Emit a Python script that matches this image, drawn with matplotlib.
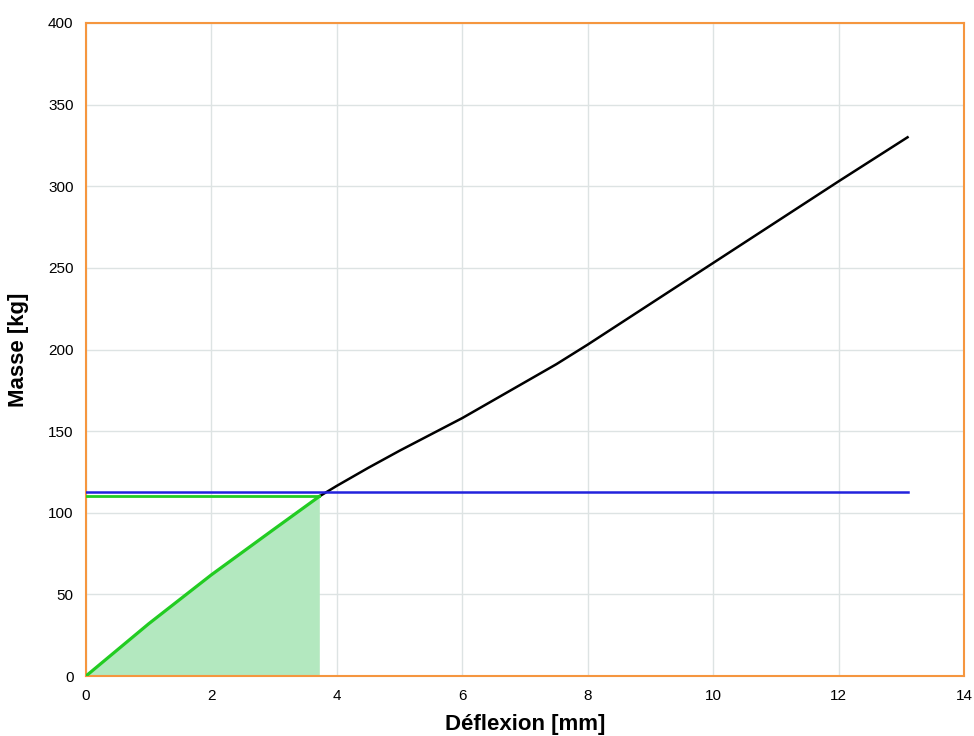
import numpy as np
import matplotlib.pyplot as plt

plt.rcParams['font.family'] = ['Liberation Sans', 'DejaVu Sans']

# green part: loading curve up to intersection
x_green = [0, 0.5, 1.0, 1.5, 2.0, 2.5, 3.0, 3.72]
y_green = [0, 16, 32, 47, 62, 76, 90, 110]

# black part: rest of the curve
x_black = [3.72, 4.0, 4.5, 5.0, 6.0, 7.0, 7.5, 8.0, 8.5, 9.0, 10.0, 11.0, 12.0, 13.1]
y_black = [110, 116.5, 127.5, 138, 158, 180, 191, 203, 215.5, 228, 253, 278, 303, 330]

green_level = 110
blue_level = 112.5
blue_end = 13.1

fig = plt.figure(figsize=(9.74, 7.36), dpi=100)
ax = fig.add_axes([86/974, 60/736, (964-86)/974, (676-23)/736])

ax.fill_between(x_green, y_green, 0, color='#b3e8bf', lw=0, zorder=1)
ax.plot(x_black, y_black, color='black', lw=1.8, zorder=3)
ax.plot([0, x_green[-1]], [green_level, green_level], color='#22cc22', lw=2, zorder=3)
ax.plot(x_green, y_green, color='#22cc22', lw=2.3, zorder=4)
ax.plot([0, blue_end], [blue_level, blue_level], color='#2222dd', lw=1.8, zorder=3)

ax.set_xlim(0, 14)
ax.set_ylim(0, 400)
ax.set_xticks(range(0, 15, 2))
ax.set_yticks(range(0, 401, 50))
ax.grid(True, color='#dde3e3', lw=1)
ax.set_axisbelow(True)
for s in ax.spines.values():
    s.set_color('#f5963f')
    s.set_linewidth(1.5)
ax.tick_params(length=0, labelsize=11, pad=9)
ax.set_xlabel('Déflexion [mm]', fontsize=16, fontweight='bold', labelpad=8)
ax.set_ylabel('Masse [kg]', fontsize=16, fontweight='bold', labelpad=14)

fig.savefig('out.png', dpi=100)
